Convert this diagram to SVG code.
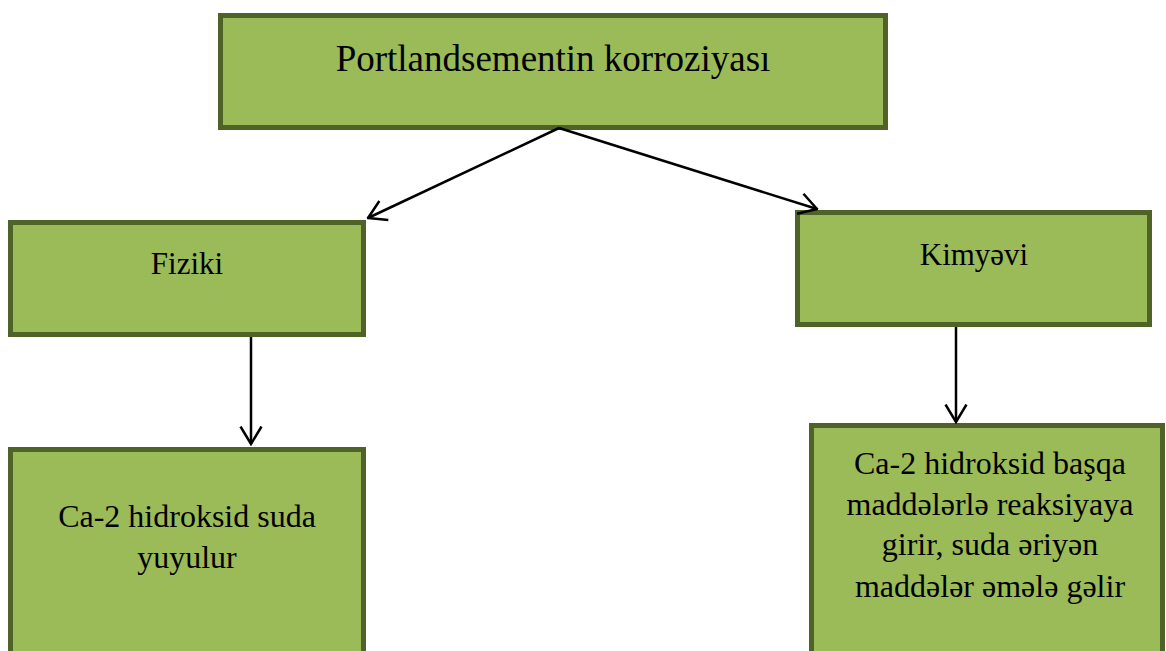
<svg xmlns="http://www.w3.org/2000/svg" width="1166" height="651" viewBox="0 0 1166 651">
  <style>
    .box { fill: #9BBB59; stroke: #4F6228; stroke-width: 5; }
    .lbl { font-family: "Liberation Serif", "Times New Roman", serif; fill: #000; text-anchor: middle; }
    .edge { stroke: #000; stroke-width: 2.5; fill: none; marker-end: url(#arrow); }
  </style>
  <defs>
    <marker id="arrow" viewBox="0 0 20 24" refX="18.5" refY="12" markerWidth="20" markerHeight="24" markerUnits="userSpaceOnUse" orient="auto">
      <path d="M1,1.5 L18.5,12 L1,22.5" fill="none" stroke="#000" stroke-width="2.5" stroke-linejoin="miter"/>
    </marker>
  </defs>
  <rect width="1166" height="651" fill="#fff"/>

  <g id="node-root">
    <rect class="box" x="220.5" y="15.5" width="665" height="112"/>
    <text class="lbl" x="553" y="71" font-size="37">Portlandsementin korroziyası</text>
  </g>

  <g id="node-fiziki">
    <rect class="box" x="10.5" y="222.5" width="353" height="112"/>
    <text class="lbl" x="187" y="274" font-size="31">Fiziki</text>
  </g>

  <g id="node-kimyevi">
    <rect class="box" x="797.5" y="212.5" width="352" height="112"/>
    <text class="lbl" x="974" y="265" font-size="31">Kimyəvi</text>
  </g>

  <g id="node-fiziki-result">
    <rect class="box" x="10.5" y="449.5" width="353" height="220"/>
    <text class="lbl" x="187" y="527" font-size="32">Ca-2 hidroksid suda</text>
    <text class="lbl" x="187" y="568" font-size="32">yuyulur</text>
  </g>

  <g id="node-kimyevi-result">
    <rect class="box" x="811.5" y="425.5" width="351" height="250"/>
    <text class="lbl" x="990" y="474" font-size="32">Ca-2 hidroksid başqa</text>
    <text class="lbl" x="990" y="515" font-size="32">maddələrlə reaksiyaya</text>
    <text class="lbl" x="990" y="555" font-size="32">girir, suda əriyən</text>
    <text class="lbl" x="990" y="597" font-size="32">maddələr əmələ gəlir</text>
  </g>

  <g id="connectors">
    <path class="edge" d="M559,128 L368,218"/>
    <path class="edge" d="M559,128 L817,209"/>
    <path class="edge" d="M251,337 L251,444"/>
    <path class="edge" d="M956,327 L956,422"/>
  </g>
</svg>
